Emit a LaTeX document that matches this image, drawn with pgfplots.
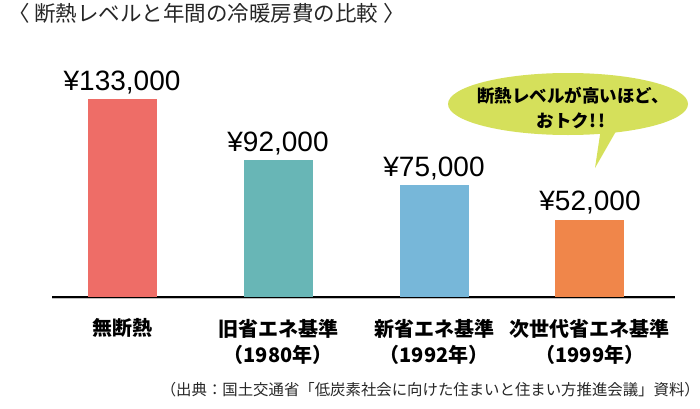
\documentclass[border=0pt]{standalone}
\usepackage{pgfplots}
\pgfplotsset{compat=1.18}
\usepackage{fontspec}
\setmainfont{Liberation Sans}
\newfontfamily\jp{Noto Sans CJK JP}

\definecolor{barred}{HTML}{EE6D67}
\definecolor{barteal}{HTML}{68B6B6}
\definecolor{barblue}{HTML}{77B7D9}
\definecolor{barorange}{HTML}{F0864A}
\definecolor{bubble}{HTML}{D5E05B}

\begin{document}
\begin{tikzpicture}[x=1pt,y=1pt]
\path[use as bounding box] (0,0) rectangle (700,408);

% title and source
\node[anchor=west, inner sep=0pt, text=black!85] at (8,395)
  {\jp\fontsize{21.5}{22}\selectfont 〈 断熱レベルと年間の冷暖房費の比較 〉};
\node[anchor=east, inner sep=0pt, text=black!85] at (700,18)
  {\jp\fontsize{15.4}{16}\selectfont （出典：国土交通省「低炭素社会に向けた住まいと住まい方推進会議」資料）};

\begin{axis}[
    at={(52pt,111pt)}, anchor=south west,
    width=623pt, height=238pt, scale only axis,
    xmin=-0.449, xmax=3.545, ymin=0, ymax=160,
    axis x line=bottom, axis y line=none,
    x axis line style={-, line width=1.4pt},
    xtick={0,1,2,3},
    xticklabels={{無断熱},{旧省エネ基準\\（1980年）},{新省エネ基準\\（1992年）},{次世代省エネ基準\\（1999年）}},
    xtick style={draw=none},
    xticklabel style={font=\jp\bfseries\fontsize{20}{26}\selectfont, align=center, anchor=north, yshift=-14pt},
    ytick=\empty,
    ybar, bar width=69pt,
    nodes near coords, point meta=explicit symbolic,
    every node near coord/.append style={font=\fontsize{28}{28}\selectfont, anchor=base, inner sep=0pt, yshift=9pt},
    clip=false]
\addplot[fill=barred, draw=none, bar shift=0pt] coordinates {(0,133) [¥133,000]};
\addplot[fill=barteal, draw=none, bar shift=0pt] coordinates {(1,92) [¥92,000]};
\addplot[fill=barblue, draw=none, bar shift=0pt] coordinates {(2,75) [¥75,000]};
\addplot[fill=barorange, draw=none, bar shift=0pt] coordinates {(3,52) [¥52,000]};
\end{axis}
\draw[black!25, line width=1pt] (52,109.5) -- (675,109.5);

% speech bubble
\fill[bubble] (601,280) -- (619,282) -- (595,240) -- cycle;
\fill[bubble] (568,304) ellipse [x radius=120, y radius=31];
\node[inner sep=0pt] at (573,312) {\jp\bfseries\fontsize{17.5}{18}\selectfont 断熱レベルが高いほど、};
\node[inner sep=0pt] at (571,287) {\jp\bfseries\fontsize{17.5}{18}\selectfont おトク!\kern2pt!};
\end{tikzpicture}
\end{document}
